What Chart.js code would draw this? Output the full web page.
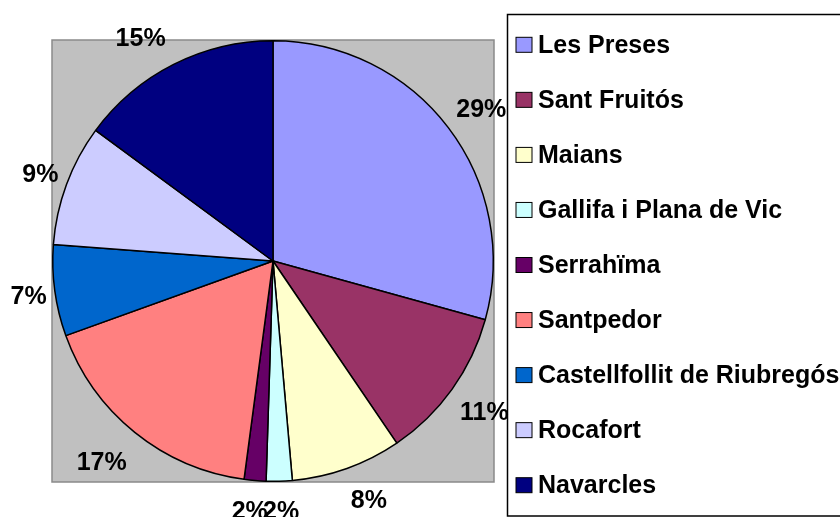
<!DOCTYPE html>
<html>
<head>
<meta charset="utf-8">
<script src="https://cdn.jsdelivr.net/npm/chart.js@4"></script>
<style>
html,body{margin:0;padding:0;background:#fff;}
#wrap{width:840px;height:517px;position:relative;}
</style>
</head>
<body>
<div id="wrap"><canvas id="c" width="840" height="517"></canvas></div>
<script>
const categories = ["Les Preses","Sant Fruitós","Maians","Gallifa i Plana de Vic","Serrahïma","Santpedor","Castellfollit de Riubregós","Rocafort","Navarcles"];
const shares = [29.3, 11.2, 8.1, 1.9, 1.6, 17.4, 6.7, 8.9, 14.9];
const sliceColors = ["#9999FF","#993366","#FFFFCC","#CCFFFF","#660066","#FF8080","#0066CC","#CCCCFF","#000080"];

const FONT = "bold 25px 'Liberation Sans', Arial, sans-serif";

const plotBg = {
  id: 'plotBg',
  beforeDraw(chart) {
    const {ctx, chartArea: a} = chart;
    ctx.save();
    ctx.fillStyle = '#C0C0C0';
    ctx.fillRect(a.left, a.top, a.right - a.left, a.bottom - a.top);
    ctx.strokeStyle = '#8a8a8a';
    ctx.lineWidth = 1.5;
    ctx.strokeRect(a.left, a.top, a.right - a.left, a.bottom - a.top);
    ctx.restore();
  }
};

const pctLabels = {
  id: 'pctLabels',
  afterDatasetsDraw(chart) {
    const {ctx} = chart;
    const meta = chart.getDatasetMeta(0);
    const data = chart.data.datasets[0].data;
    const total = data.reduce((s, v) => s + v, 0);
    ctx.save();
    ctx.font = FONT;
    ctx.fillStyle = '#000';
    ctx.textAlign = 'center';
    ctx.textBaseline = 'middle';
    meta.data.forEach((arc, i) => {
      const p = arc.getProps(['x','y','startAngle','endAngle','outerRadius'], true);
      const mid = (p.startAngle + p.endAngle) / 2;
      const txt = Math.round(data[i] / total * 100) + '%';
      const w = ctx.measureText(txt).width;
      const c = Math.cos(mid), s = Math.sin(mid);
      const kx = Math.max(-1, Math.min(1, 2.5 * c));
      const lx = p.x + p.outerRadius * c + (w / 2 + 8) * kx;
      const ly = p.y + p.outerRadius * s + 30 * s + 12 * Math.max(s, 0) * Math.abs(c);
      ctx.fillText(txt, lx, ly + 1);
    });
    ctx.restore();
  }
};

const boxLegend = {
  id: 'boxLegend',
  afterDraw(chart) {
    const {ctx} = chart;
    const labels = chart.data.labels;
    const colors = chart.data.datasets[0].backgroundColor;
    ctx.save();
    ctx.strokeStyle = '#000';
    ctx.lineWidth = 1.5;
    ctx.strokeRect(507.5, 14.5, 400, 501.5);
    ctx.font = FONT;
    ctx.textBaseline = 'middle';
    ctx.textAlign = 'left';
    labels.forEach((lab, i) => {
      const cy = 44.8 + i * 55.05;
      ctx.fillStyle = colors[i];
      ctx.fillRect(516, cy - 7.5, 16, 15);
      ctx.lineWidth = 1;
      ctx.strokeStyle = '#000';
      ctx.strokeRect(516, cy - 7.5, 16, 15);
      ctx.fillStyle = '#000';
      ctx.fillText(lab, 538, cy + 1);
    });
    ctx.restore();
  }
};

new Chart(document.getElementById('c'), {
  type: 'pie',
  data: {
    labels: categories,
    datasets: [{
      data: shares,
      backgroundColor: sliceColors,
      borderColor: '#000',
      borderWidth: 1.5,
      hoverOffset: 0
    }]
  },
  options: {
    responsive: false,
    animation: false,
    devicePixelRatio: 1,
    layout: { padding: { left: 52, top: 40, right: 346, bottom: 35 } },
    plugins: {
      legend: { display: false },
      tooltip: { enabled: false }
    }
  },
  plugins: [plotBg, pctLabels, boxLegend]
});
</script>
</body>
</html>
